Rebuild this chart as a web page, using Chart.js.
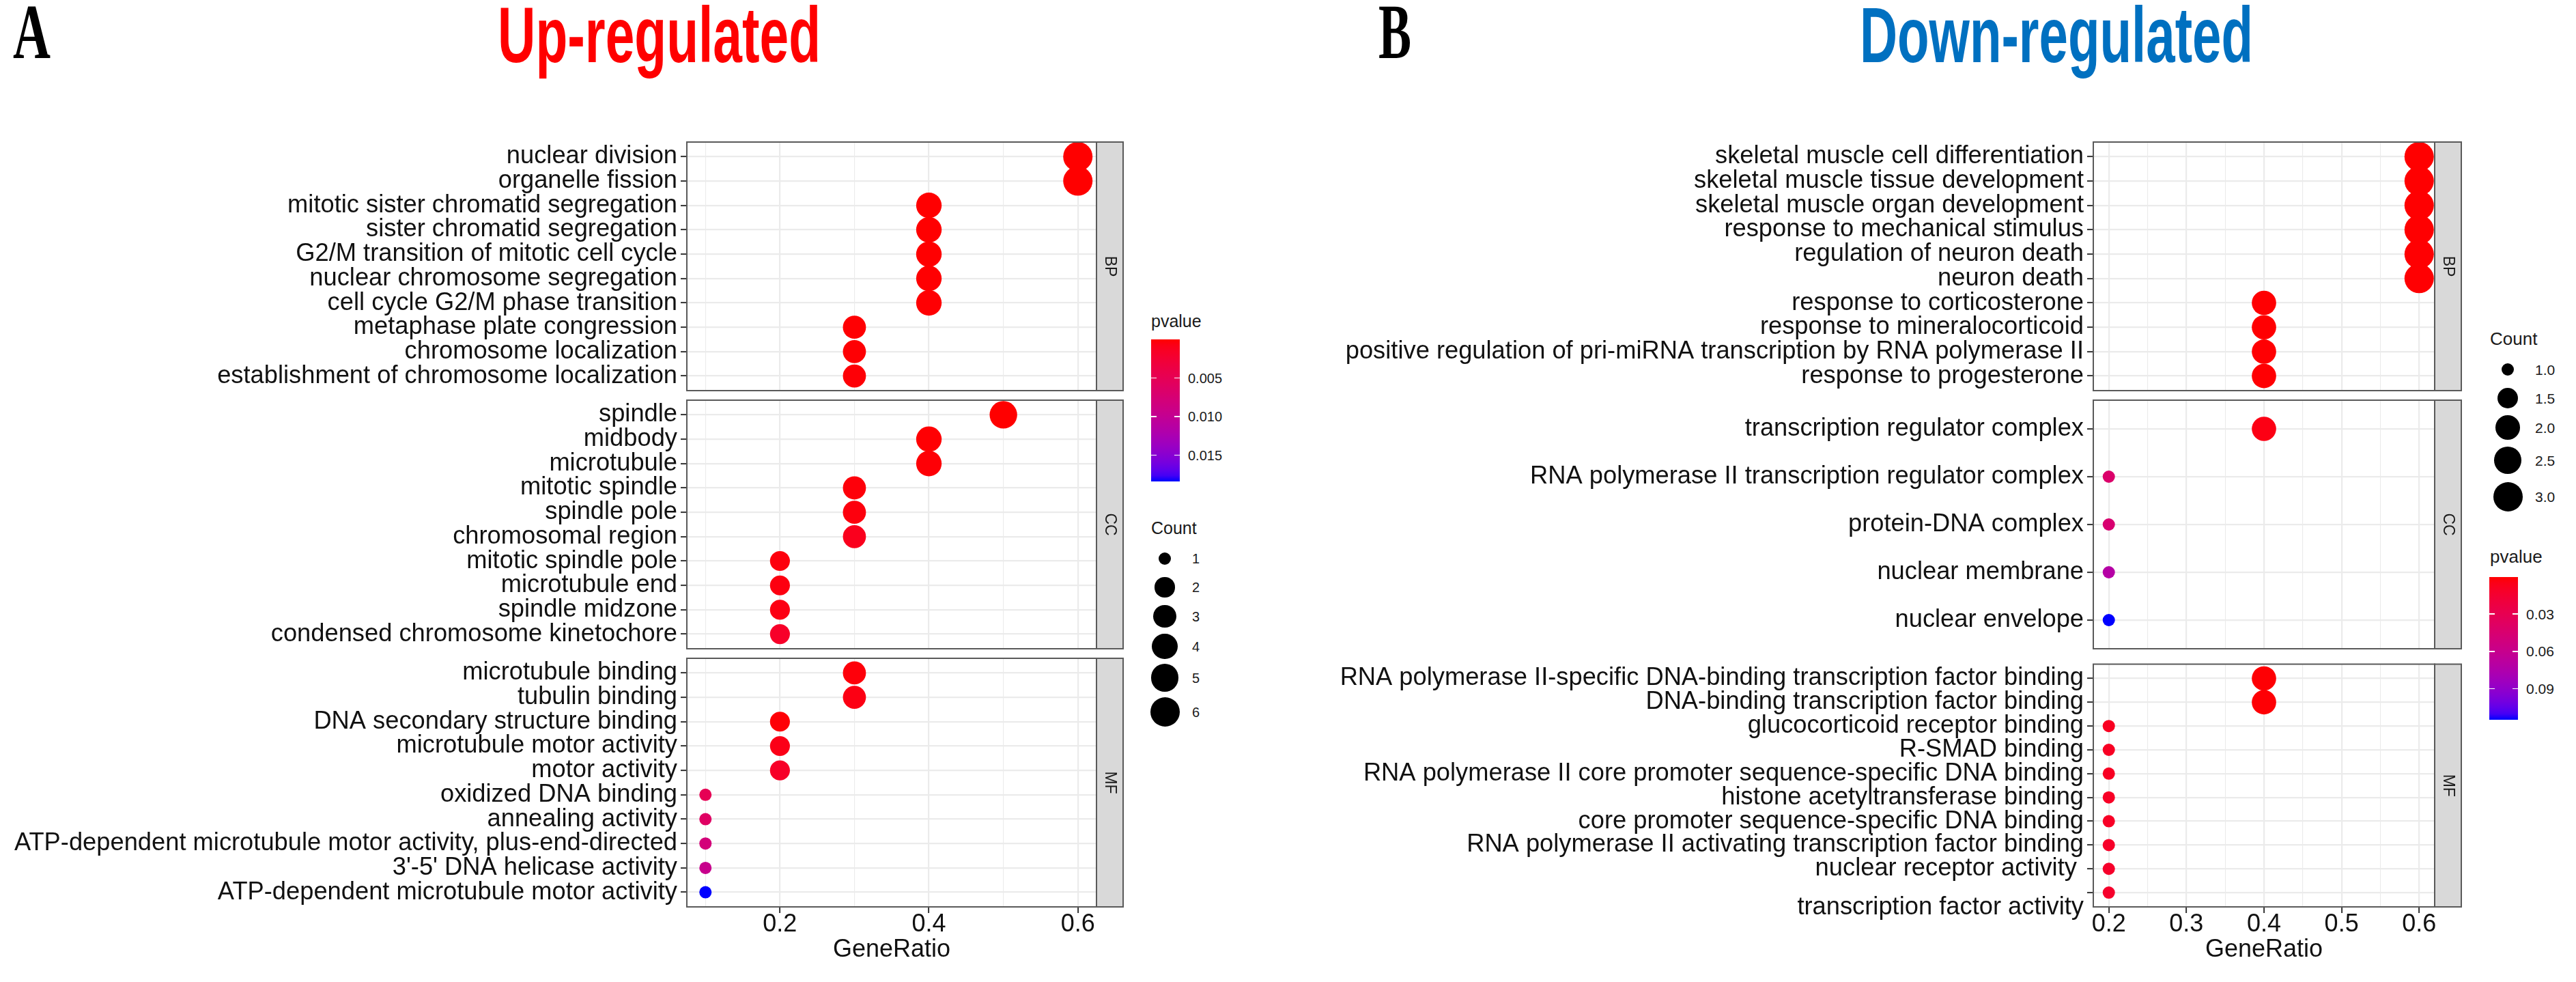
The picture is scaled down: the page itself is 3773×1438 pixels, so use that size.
<!DOCTYPE html>
<html><head><meta charset="utf-8">
<script src="https://cdn.jsdelivr.net/npm/chart.js@4.4.1/dist/chart.umd.min.js"></script>
<style>
html,body{margin:0;padding:0;background:#fff;}
#page{position:relative;width:3773px;height:1438px;overflow:hidden;background:#fff;}
#page canvas{position:absolute;}
.t{position:absolute;white-space:nowrap;font-family:"Liberation Sans",Arial,sans-serif;line-height:1;}
</style></head>
<body><div id="page"></div>
<script>
// ---------------- DATA ----------------
const upBP_terms = ["nuclear division","organelle fission","mitotic sister chromatid segregation","sister chromatid segregation","G2/M transition of mitotic cell cycle","nuclear chromosome segregation","cell cycle G2/M phase transition","metaphase plate congression","chromosome localization","establishment of chromosome localization"];
const upBP_ratio = [0.6,0.6,0.4,0.4,0.4,0.4,0.4,0.3,0.3,0.3];
const upBP_count = [6,6,4,4,4,4,4,3,3,3];
const upBP_p = [0.00002,0.00003,0.00004,0.00005,0.00006,0.00008,0.0001,0.0001,0.00015,0.0002];

const upCC_terms = ["spindle","midbody","microtubule","mitotic spindle","spindle pole","chromosomal region","mitotic spindle pole","microtubule end","spindle midzone","condensed chromosome kinetochore"];
const upCC_ratio = [0.5,0.4,0.4,0.3,0.3,0.3,0.2,0.2,0.2,0.2];
const upCC_count = [5,4,4,3,3,3,2,2,2,2];
const upCC_p = [0.00003,0.0001,0.0002,0.0003,0.0004,0.0011,0.0004,0.0005,0.0006,0.0018];

const upMF_terms = ["microtubule binding","tubulin binding","DNA secondary structure binding","microtubule motor activity","motor activity","oxidized DNA binding","annealing activity","ATP-dependent microtubule motor activity, plus-end-directed","3'-5' DNA helicase activity","ATP-dependent microtubule motor activity"];
const upMF_ratio = [0.3,0.3,0.2,0.2,0.2,0.1,0.1,0.1,0.1,0.1];
const upMF_count = [3,3,2,2,2,1,1,1,1,1];
const upMF_p = [0.0003,0.0006,0.0002,0.0008,0.0017,0.0050,0.0062,0.0080,0.0095,0.0184];

const downBP_terms = ["skeletal muscle cell differentiation","skeletal muscle tissue development","skeletal muscle organ development","response to mechanical stimulus","regulation of neuron death","neuron death","response to corticosterone","response to mineralocorticoid","positive regulation of pri-miRNA transcription by RNA polymerase II","response to progesterone"];
const downBP_ratio = [0.6,0.6,0.6,0.6,0.6,0.6,0.4,0.4,0.4,0.4];
const downBP_count = [3,3,3,3,3,3,2,2,2,2];
const downBP_p = [0.0001,0.0002,0.0002,0.0003,0.0004,0.0005,0.0004,0.0005,0.0006,0.0007];

const downCC_terms = ["transcription regulator complex","RNA polymerase II transcription regulator complex","protein-DNA complex","nuclear membrane","nuclear envelope"];
const downCC_ratio = [0.4,0.2,0.2,0.2,0.2];
const downCC_count = [2,1,1,1,1];
const downCC_p = [0.004,0.042,0.045,0.072,0.115];

const downMF_terms = ["RNA polymerase II-specific DNA-binding transcription factor binding","DNA-binding transcription factor binding","glucocorticoid receptor binding","R-SMAD binding","RNA polymerase II core promoter sequence-specific DNA binding","histone acetyltransferase binding","core promoter sequence-specific DNA binding","RNA polymerase II activating transcription factor binding","nuclear receptor activity","transcription factor activity"];
const downMF_ratio = [0.4,0.4,0.2,0.2,0.2,0.2,0.2,0.2,0.2,0.2];
const downMF_count = [2,2,1,1,1,1,1,1,1,1];
const downMF_p = [0.0008,0.001,0.008,0.009,0.009,0.010,0.010,0.011,0.012,0.012];

const upXGrid = [0.1,0.2,0.3,0.4,0.5,0.6];
const upXMajor = [0.2,0.4,0.6];
const upXLabels = ["0.2","0.4","0.6"];
const downXGrid = [0.2,0.25,0.3,0.35,0.4,0.45,0.5,0.55,0.6];
const downXMajor = [0.2,0.3,0.4,0.5,0.6];
const downXLabels = ["0.2","0.3","0.4","0.5","0.6"];

const upPTicks = [0.005,0.010,0.015];
const upPTickLabels = ["0.005","0.010","0.015"];
const upCountKeys = [1,2,3,4,5,6];
const upCountLabels = ["1","2","3","4","5","6"];
const downPTicks = [0.03,0.06,0.09];
const downPTickLabels = ["0.03","0.06","0.09"];
const downCountKeys = [1,1.5,2,2.5,3];
const downCountLabels = ["1.0","1.5","2.0","2.5","3.0"];

const facetNames = ["BP","CC","MF"];
const titleUp = "Up-regulated";
const titleDown = "Down-regulated";
const xAxisTitle = "GeneRatio";

// ---------------- COLOR (Lab interpolation red -> blue) ----------------
function lin(c){c/=255;return c<=0.04045?c/12.92:Math.pow((c+0.055)/1.055,2.4);}
function unlin(c){const v=c<=0.0031308?12.92*c:1.055*Math.pow(c,1/2.4)-0.055;return Math.round(Math.max(0,Math.min(1,v))*255);}
function rgb2lab(r,g,b){
  const R=lin(r),G=lin(g),B=lin(b);
  const X=(0.4124*R+0.3576*G+0.1805*B)/0.95047, Y=(0.2126*R+0.7152*G+0.0722*B), Z=(0.0193*R+0.1192*G+0.9505*B)/1.08883;
  const f=t=>t>0.008856?Math.cbrt(t):7.787*t+16/116;
  const fx=f(X),fy=f(Y),fz=f(Z);
  return [116*fy-16,500*(fx-fy),200*(fy-fz)];
}
function lab2rgb(L,a,b){
  const fy=(L+16)/116, fx=fy+a/500, fz=fy-b/200;
  const fi=t=>t>0.206893?t*t*t:(t-16/116)/7.787;
  const X=fi(fx)*0.95047, Y=fi(fy), Z=fi(fz)*1.08883;
  const R=3.2406*X-1.5372*Y-0.4986*Z, G=-0.9689*X+1.8758*Y+0.0415*Z, B=0.0557*X-0.2040*Y+1.0570*Z;
  return [unlin(R),unlin(G),unlin(B)];
}
const LOW=rgb2lab(255,0,0), HIGH=rgb2lab(0,0,255);
function colT(t){t=Math.max(0,Math.min(1,t));const c=lab2rgb(LOW[0]+(HIGH[0]-LOW[0])*t,LOW[1]+(HIGH[1]-LOW[1])*t,LOW[2]+(HIGH[2]-LOW[2])*t);return `rgb(${c[0]},${c[1]},${c[2]})`;}

// ---------------- LAYOUT ----------------
const FONT='"Liberation Sans", Arial, sans-serif';
const facetTops=[208,586,964], facetH=364, padV=40, stripW=39;
const page=document.getElementById('page');

function diam(c,cmin,cmax){return 5*(3+5*Math.sqrt((c-cmin)/(cmax-cmin)))+3;}

function addText(txt,left,top,size,opts={}){
  const d=document.createElement('div');d.className='t';d.textContent=txt;
  d.style.left=left+'px';d.style.top=top+'px';d.style.fontSize=size+'px';
  d.style.color=opts.color||'#1a1a1a';
  if(opts.weight)d.style.fontWeight=opts.weight;
  if(opts.family)d.style.fontFamily=opts.family;
  page.appendChild(d);
  if(opts.targetWidth){
    const w=d.getBoundingClientRect().width;
    const s=opts.targetWidth/w;
    d.style.transformOrigin='0 0';d.style.transform='scaleX('+s+')';
    if(opts.centerX!==undefined)d.style.left=(opts.centerX-opts.targetWidth/2)+'px';
  }
  return d;
}
function addBox(left,top,w,h,style){const d=document.createElement('div');d.style.position='absolute';d.style.left=left+'px';d.style.top=top+'px';d.style.width=w+'px';d.style.height=h+'px';Object.assign(d.style,style);page.appendChild(d);return d;}

const stripPlugin={id:'strip',afterDraw(chart,args,o){
  const {ctx,chartArea:a}=chart;ctx.save();
  ctx.lineWidth=2;ctx.strokeStyle='#5a5a5a';
  ctx.strokeRect(a.left,a.top,a.right-a.left,a.bottom-a.top);
  ctx.fillStyle='#D9D9D9';ctx.fillRect(a.right,a.top,o.w,a.bottom-a.top);
  ctx.strokeRect(a.right,a.top,o.w,a.bottom-a.top);
  ctx.translate(a.right+o.w/2,(a.top+a.bottom)/2);ctx.rotate(Math.PI/2);
  ctx.fillStyle='#1a1a1a';ctx.font='23px '+FONT;ctx.textAlign='center';ctx.textBaseline='middle';
  ctx.fillText(o.label,0,0);ctx.restore();
}};

function near(a,b){return Math.abs(a-b)<1e-9;}

function buildPanel(P){
  const allP=[].concat(...P.facets.map(f=>f.p)), allC=[].concat(...P.facets.map(f=>f.count)), allR=[].concat(...P.facets.map(f=>f.ratio));
  const pmin=Math.min(...allP), pmax=Math.max(...allP), cmin=Math.min(...allC), cmax=Math.max(...allC);
  const rmin=Math.min(...allR), rmax=Math.max(...allR), ex=(rmax-rmin)*0.05;
  P.facets.forEach((f,fi)=>{
    const isLast=fi===P.facets.length-1;
    const top=facetTops[fi]-padV;
    const h=isLast?(1438-top):(facetH+2*padV);
    const w=P.plotRight+stripW+15-P.canvasLeft;
    const cv=document.createElement('canvas');cv.width=w;cv.height=h;cv.style.left=P.canvasLeft+'px';cv.style.top=top+'px';page.appendChild(cv);
    const n=f.terms.length;
    const pts=f.terms.map((t,i)=>({x:f.ratio[i],y:i,c:f.count[i],p:f.p[i]}));
    new Chart(cv,{type:'scatter',
      data:{datasets:[{data:pts,clip:false,
        pointRadius:ctx=>diam(ctx.raw.c,cmin,cmax)/2,
        pointHoverRadius:ctx=>diam(ctx.raw.c,cmin,cmax)/2,
        pointBorderWidth:0,
        pointBackgroundColor:ctx=>colT((ctx.raw.p-pmin)/(pmax-pmin)),
        pointBorderColor:ctx=>colT((ctx.raw.p-pmin)/(pmax-pmin))}]},
      options:{responsive:false,animation:false,events:[],
        layout:{padding:{left:0,right:w-(P.plotRight-P.canvasLeft),top:padV,bottom:isLast?0:padV}},
        plugins:{legend:{display:false},tooltip:{enabled:false},strip:{w:stripW,label:facetNames[fi]}},
        scales:{
          x:{type:'linear',min:rmin-ex,max:rmax+ex,
            afterBuildTicks:s=>{s.ticks=P.xGrid.map(v=>({value:v}));},
            afterFit:s=>{s.height=isLast?(h-padV-facetH):0;},
            border:{display:false},
            grid:{color:'#EBEBEB',lineWidth:c=>P.xMajor.some(v=>near(v,c.tick.value))?2.2:1.1,
              drawTicks:isLast,tickLength:9,tickWidth:2,
              tickColor:c=>P.xMajor.some(v=>near(v,c.tick.value))?'#333333':'rgba(0,0,0,0)'},
            ticks:{display:isLast,autoSkip:false,maxRotation:0,padding:-5,color:'#111',font:{family:FONT,size:36},
              callback:v=>{const k=P.xMajor.findIndex(m=>near(m,v));return k>=0?P.xLabels[k]:'';}},
            title:{display:isLast,text:xAxisTitle,color:'#111',font:{family:FONT,size:36,lineHeight:1.2},padding:{top:0,bottom:25}}
          },
          y:{type:'linear',reverse:true,min:-0.6,max:n-0.4,
            afterBuildTicks:s=>{s.ticks=f.terms.map((t,i)=>({value:i}));},
            afterFit:s=>{s.width=P.plotLeft-P.canvasLeft;},
            border:{display:false},
            grid:{color:'#EBEBEB',lineWidth:2.2,drawTicks:true,tickLength:9,tickWidth:2,tickColor:'#333333'},
            ticks:{autoSkip:false,padding:5,color:'#111',font:{family:FONT,size:36.3,lineHeight:1.2},
              callback:v=>{const lab=f.terms[v];if(P.labelTweak)return P.labelTweak(lab);return lab;}}
          }
        }},
      plugins:[stripPlugin]});
  });
  // legends
  const L=P.legend;
  addText('pvalue',L.pTitle.x,L.pTitle.baseline-0.8465*L.pTitle.size,L.pTitle.size);
  const stops=[];for(let i=0;i<=24;i++){stops.push(colT(i/24)+' '+(i/24*100).toFixed(2)+'%');}
  addBox(L.bar.x,L.bar.top,L.bar.w,L.bar.h,{background:'linear-gradient(to bottom,'+stops.join(',')+')'});
  P.pTicks.forEach((v,i)=>{
    const y=L.bar.top+(v-pmin)/(pmax-pmin)*L.bar.h;
    addBox(L.bar.x,y-0.8,L.bar.w/5,1.6,{background:'#fff'});
    addBox(L.bar.x+L.bar.w*4/5,y-0.8,L.bar.w/5,1.6,{background:'#fff'});
    addText(P.pTickLabels[i],L.bar.labelX,y-0.4885*L.bar.fs,L.bar.fs);
  });
  addText('Count',L.cTitle.x,L.cTitle.baseline-0.8465*L.cTitle.size,L.cTitle.size);
  P.countKeys.forEach((c,i)=>{
    const d=diam(c,cmin,cmax),y=L.items.ys[i];
    addBox(L.items.cx-d/2,y-d/2,d,d,{background:'#000',borderRadius:'50%'});
    addText(P.countLabels[i],L.items.labelX,y-0.4885*L.items.fs,L.items.fs);
  });
}

const panelA={canvasLeft:0,plotLeft:1006,plotRight:1606,xGrid:upXGrid,xMajor:upXMajor,xLabels:upXLabels,
  facets:[{terms:upBP_terms,ratio:upBP_ratio,count:upBP_count,p:upBP_p},{terms:upCC_terms,ratio:upCC_ratio,count:upCC_count,p:upCC_p},{terms:upMF_terms,ratio:upMF_ratio,count:upMF_count,p:upMF_p}],
  pTicks:upPTicks,pTickLabels:upPTickLabels,countKeys:upCountKeys,countLabels:upCountLabels,
  legend:{pTitle:{x:1686,baseline:479,size:25},bar:{x:1686,top:497,w:42,h:208,labelX:1740,fs:20},
    cTitle:{x:1686,baseline:782,size:25},items:{ys:[818,860,902.5,946.5,992.5,1042.5],cx:1706,labelX:1746,fs:20}}};
const panelB={canvasLeft:1900,plotLeft:3066,plotRight:3566,xGrid:downXGrid,xMajor:downXMajor,xLabels:downXLabels,
  facets:[{terms:downBP_terms,ratio:downBP_ratio,count:downBP_count,p:downBP_p},{terms:downCC_terms,ratio:downCC_ratio,count:downCC_count,p:downCC_p},{terms:downMF_terms,ratio:downMF_ratio,count:downMF_count,p:downMF_p}],
  pTicks:downPTicks,pTickLabels:downPTickLabels,countKeys:downCountKeys,countLabels:downCountLabels,
  labelTweak:lab=>lab==="transcription factor activity"?["",lab]:(lab==="nuclear receptor activity"?lab+" ":lab),
  legend:{pTitle:{x:3647,baseline:824,size:26},bar:{x:3646,top:844.5,w:42,h:209.5,labelX:3700,fs:21},
    cTitle:{x:3647,baseline:505,size:26},items:{ys:[541,583,626,674,727],cx:3673,labelX:3713,fs:21}}};

buildPanel(panelA);
buildPanel(panelB);

// titles (condensed, as in the reference)
const SERIF='"Liberation Serif","Times New Roman",serif';
const TS=115;
addText('A',19,85-0.8375*TS,TS,{weight:'bold',family:SERIF,color:'#000',targetWidth:55});
addText('B',2019,85-0.8375*TS,TS,{weight:'bold',family:SERIF,color:'#000',targetWidth:48});
addText(titleUp,0,91.5-0.8465*TS,TS,{weight:'bold',color:'#FF0000',targetWidth:473,centerX:965.5});
addText(titleDown,0,91.5-0.8465*TS,TS,{weight:'bold',color:'#0070C0',targetWidth:576,centerX:3012});
</script>
</body></html>
